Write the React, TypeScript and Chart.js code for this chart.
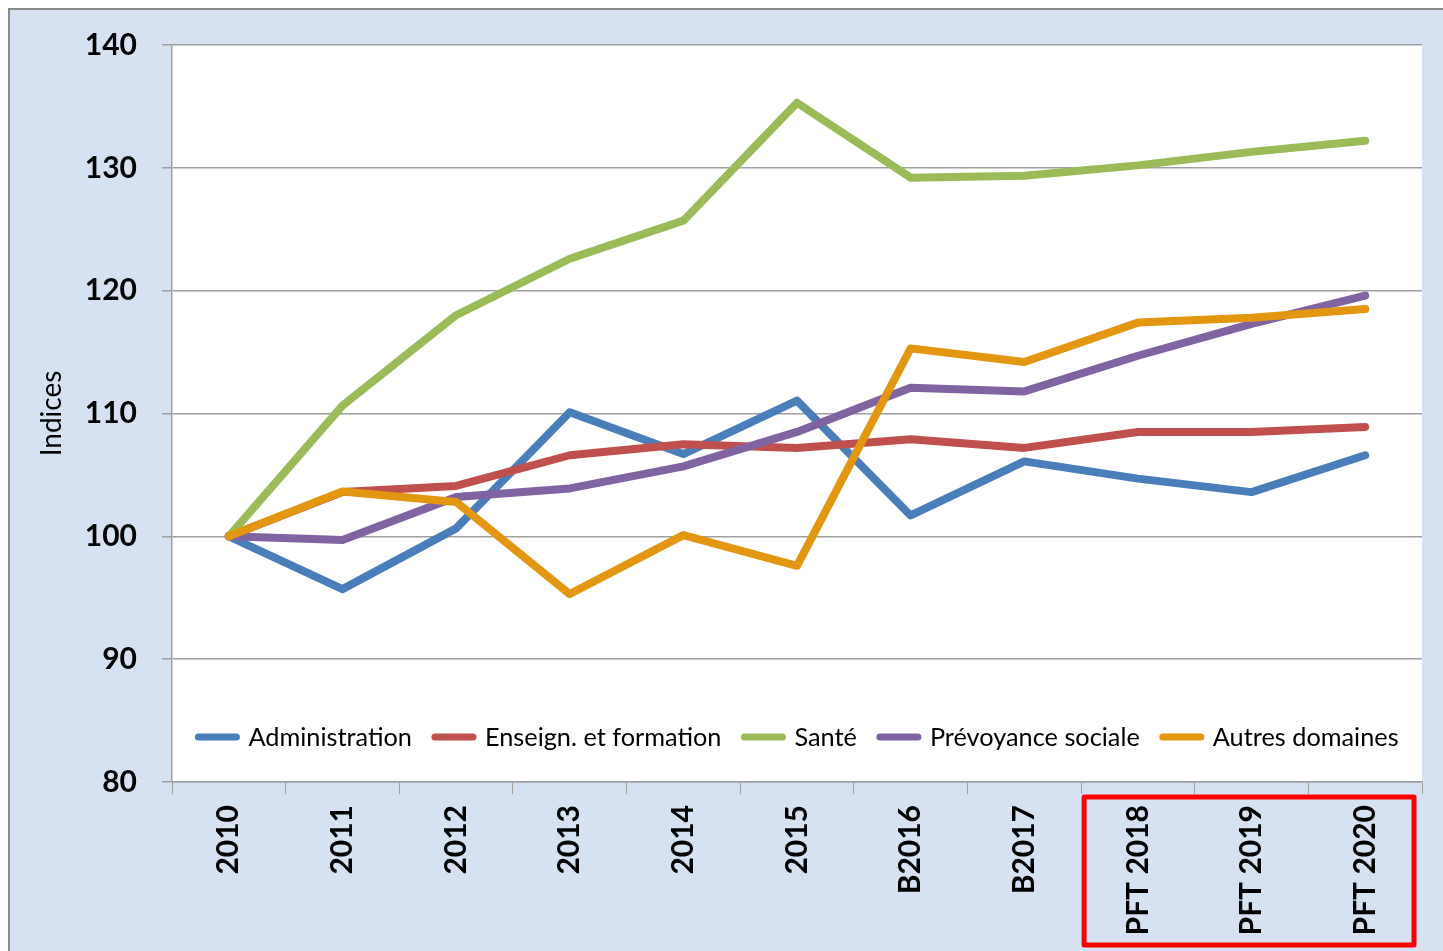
import React, { useEffect, useRef } from "react";
import { Chart, registerables } from "chart.js";

Chart.register(...registerables);

const categories = ["2010", "2011", "2012", "2013", "2014", "2015", "B2016", "B2017", "PFT 2018", "PFT 2019", "PFT 2020"];
const administration = [100, 95.7, 100.65, 110.1, 106.7, 111.05, 101.7, 106.1, 104.7, 103.6, 106.6];
const enseignement = [100, 103.6, 104.1, 106.6, 107.5, 107.2, 107.9, 107.2, 108.5, 108.5, 108.9];
const sante = [100, 110.65, 118.0, 122.6, 125.7, 135.3, 129.2, 129.35, 130.2, 131.3, 132.2];
const prevoyance = [100, 99.7, 103.2, 103.9, 105.7, 108.5, 112.1, 111.8, 114.7, 117.3, 119.6];
const autres = [100, 103.65, 102.8, 95.3, 100.1, 97.6, 115.3, 114.2, 117.4, 117.8, 118.5];
const seriesNames = ["Administration", "Enseign. et formation", "Santé", "Prévoyance sociale", "Autres domaines"];
const seriesColors = ["#4a7ebb", "#c0504d", "#9bbb59", "#8064a2", "#e3960f"];
const yMin = 80;
const yMax = 140;
const yStep = 10;
const yTitle = "Indices";
const highlighted = ["PFT 2018", "PFT 2019", "PFT 2020"];

const FONT = "Lato, 'Open Sans', sans-serif";

export default function App() {
  const ref = useRef<HTMLCanvasElement | null>(null);

  useEffect(() => {
    document.documentElement.style.overflow = "hidden";
    const canvas = ref.current;
    if (!canvas) return;
    const seriesValues = [administration, enseignement, sante, prevoyance, autres];

    const backgroundPlugin = {
      id: "bg",
      beforeDraw(chart: any) {
        const { ctx, width, height, chartArea } = chart;
        ctx.save();
        ctx.fillStyle = "#ffffff";
        ctx.fillRect(0, 0, width, height);
        ctx.fillStyle = "#d6e2f1";
        ctx.fillRect(8, 8, width - 8, height - 8);
        ctx.strokeStyle = "#8a8a8a";
        ctx.lineWidth = 2;
        ctx.beginPath();
        ctx.moveTo(9, height);
        ctx.lineTo(9, 9);
        ctx.lineTo(width, 9);
        ctx.stroke();
        ctx.fillStyle = "#ffffff";
        ctx.fillRect(chartArea.left, chartArea.top, chartArea.right - chartArea.left, chartArea.bottom - chartArea.top);
        ctx.restore();
      },
    };

    const overlayPlugin = {
      id: "overlay",
      afterDraw(chart: any) {
        const { ctx, chartArea, height } = chart;
        const xs = chart.scales.x;
        ctx.save();
        // legend inside plot area
        ctx.font = `25.3px ${FONT}`;
        ctx.textBaseline = "middle";
        ctx.textAlign = "left";
        const sample = 44;
        const gapText = 9;
        const gapItem = 20;
        const widths = seriesNames.map((n) => ctx.measureText(n).width);
        const total = widths.reduce((a, w) => a + sample + gapText + w, 0) + gapItem * (seriesNames.length - 1);
        let x = (chartArea.left + chartArea.right) / 2 - total / 2;
        const y = chartArea.bottom - 45;
        seriesNames.forEach((name, i) => {
          ctx.strokeStyle = seriesColors[i];
          ctx.lineWidth = 7;
          ctx.lineCap = "round";
          ctx.beginPath();
          ctx.moveTo(x + 3, y);
          ctx.lineTo(x + sample - 3, y);
          ctx.stroke();
          ctx.fillStyle = "#000000";
          ctx.fillText(name, x + sample + gapText, y + 1);
          x += sample + gapText + widths[i] + gapItem;
        });
        // red highlight box around forecast labels
        const i0 = categories.indexOf(highlighted[0]);
        const left = (xs.getPixelForValue(i0 - 1) + xs.getPixelForValue(i0)) / 2 + 3;
        const right = chartArea.right - 8;
        const top = chartArea.bottom + 15;
        const bottom = height - 6;
        ctx.strokeStyle = "#ff0000";
        ctx.lineWidth = 5;
        ctx.lineJoin = "round";
        ctx.strokeRect(left, top, right - left, bottom - top);
        ctx.restore();
      },
    };

    const chart = new Chart(canvas, {
      type: "line",
      data: {
        labels: categories,
        datasets: seriesNames.map((name, i) => ({
          label: name,
          data: seriesValues[i],
          borderColor: seriesColors[i],
          backgroundColor: seriesColors[i],
          borderWidth: 8,
          borderCapStyle: "round",
          borderJoinStyle: "round",
          pointRadius: 0,
          pointHoverRadius: 0,
          tension: 0,
          fill: false,
          order: seriesNames.length - i,
        })),
      },
      options: {
        animation: false,
        responsive: true,
        maintainAspectRatio: false,
        layout: { padding: { left: 0, top: 45, right: 21, bottom: 0 } },
        plugins: {
          legend: { display: false },
          tooltip: { enabled: false },
          title: { display: false },
        },
        scales: {
          x: {
            type: "category",
            offset: true,
            grid: {
              display: true,
              drawOnChartArea: false,
              drawTicks: true,
              tickLength: 12,
              color: "#a0a0a0",
              offset: true,
            },
            border: { display: true, color: "#a0a0a0", width: 1.5 },
            ticks: {
              autoSkip: false,
              maxRotation: 90,
              minRotation: 90,
              padding: 11,
              color: "#000000",
              font: { family: FONT, size: 30, weight: "bold" },
            },
            afterFit(scale: any) {
              scale.height = 169;
            },
          },
          y: {
            min: yMin,
            max: yMax,
            ticks: {
              stepSize: yStep,
              padding: 25,
              color: "#000000",
              font: { family: FONT, size: 30, weight: "bold" },
            },
            grid: {
              color: "#a0a0a0",
              lineWidth: 1.5,
              tickLength: 10,
              drawTicks: true,
            },
            border: { display: true, color: "#a0a0a0", width: 1.5 },
            title: {
              display: true,
              text: yTitle,
              color: "#000000",
              font: { family: FONT, size: 28, weight: "normal" },
              padding: { top: 35, bottom: 0 },
            },
            afterFit(scale: any) {
              scale.width = 172;
            },
          },
        },
      },
      plugins: [backgroundPlugin, overlayPlugin],
    } as any);

    return () => chart.destroy();
  }, []);

  return (
    <div style={{ position: "fixed", left: 0, top: 0, width: 1443, height: 951 }}>
      <canvas ref={ref} />
    </div>
  );
}
